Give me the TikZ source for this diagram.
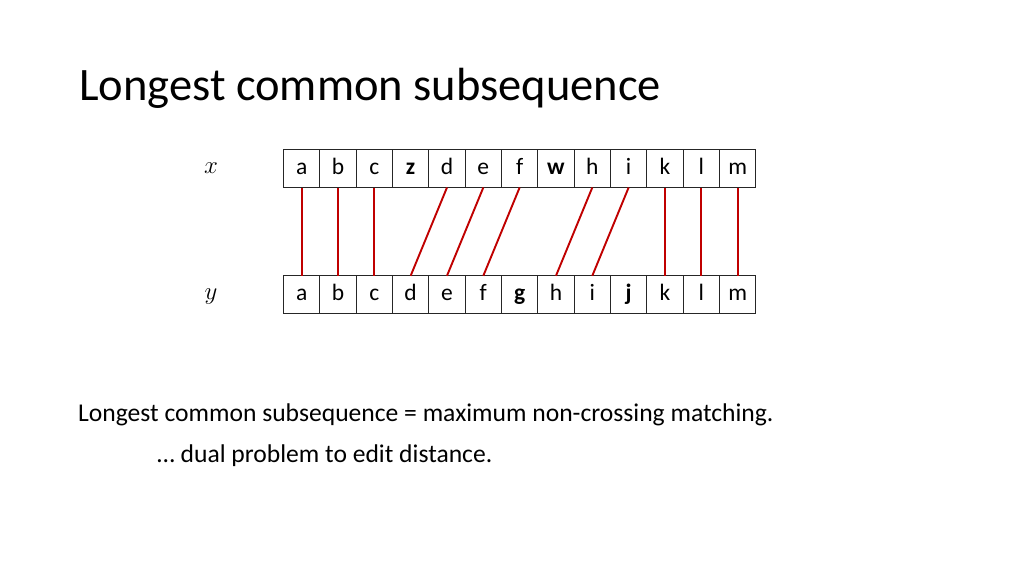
\documentclass[tikz,border=0pt]{standalone}
\usepackage{fontspec}
\setmainfont{Carlito}
\definecolor{matchred}{RGB}{192,0,0}
\begin{document}
\begin{tikzpicture}[x=1pt,y=-1pt,
  cell/.style={draw=black!85,line width=1pt,minimum width=36.33pt,minimum height=38pt,inner sep=0pt,outer sep=0pt,text height=12pt,text depth=0pt,font=\fontsize{23.5}{26}\selectfont},
  match/.style={draw=matchred,line width=1.9pt},
  body/.style={anchor=base west,inner sep=0pt,font=\fontsize{25.6}{30}\selectfont}]
\useasboundingbox[fill=white] (0,0) rectangle (1024,576);
\node[anchor=base west,inner sep=0pt,font=\fontsize{46.5}{52}\selectfont] (title) at (79,100) {Longest common subsequence};
\node[inner sep=0pt,font=\fontsize{30}{32}\selectfont] (xl) at (211,168) {$x$};
\node[inner sep=0pt,font=\fontsize{30}{32}\selectfont] (yl) at (211,297) {$y$};
\foreach \c [count=\i from 0] in {a,b,c,\textbf{z},d,e,f,\textbf{w},h,i,k,l,m}
  \node[cell] (t\i) at ({283.5+36.33*(\i+0.5)},168.5) {\c};
\foreach \c [count=\i from 0] in {a,b,c,d,e,f,\textbf{g},h,i,\textbf{j},k,l,m}
  \node[cell] (b\i) at ({283.5+36.33*(\i+0.5)},294.75) {\c};
\foreach \a/\b in {0/0,1/1,2/2,4/3,5/4,6/5,8/7,9/8,10/10,11/11,12/12}
  \draw[match] (t\a.south) -- (b\b.north);
\node[body] (l1) at (78,421) {Longest common subsequence = maximum non-crossing matching.};
\node[body] (l2) at (157,462) {… dual problem to edit distance.};
\end{tikzpicture}
\end{document}
